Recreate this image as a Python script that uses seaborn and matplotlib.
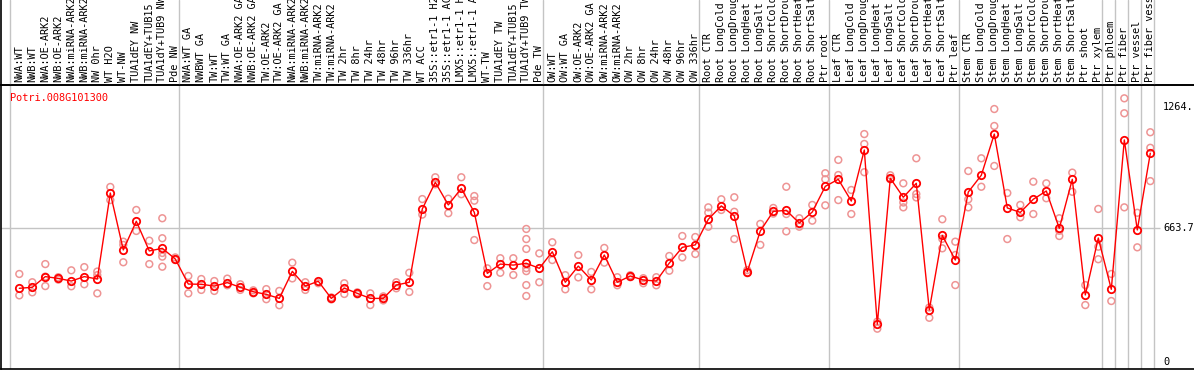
import matplotlib
matplotlib.use("Agg")
import matplotlib.pyplot as plt
import seaborn as sns
import pandas as pd
import numpy as np

gene = "Potri.008G101300"

labels = [
    # NW group
    "NWA:WT", "NWB:WT", "NWA:OE-ARK2", "NWB:OE-ARK2", "NWA:miRNA-ARK2", "NWB:miRNA-ARK2",
    "NW 0hr", "WT H2O", "WT-NW", "TUA1dEY NW", "TUA1dEY+TUB15", "TUA1dY+TUB9 NW", "Pde NW",
    # TW group
    "NWA:WT GA", "NWBWT GA", "TW:WT", "TW:WT GA", "NWA:OE-ARK2 GA", "NWB:OE-ARK2 GA",
    "TW:OE-ARK2", "TW:OE-ARK2 GA", "NWA:miRNA-ARK2", "NWB:miRNA-ARK2", "TW:miRNA-ARK2",
    "TW:miRNA-ARK2", "TW 2hr", "TW 8hr", "TW 24hr", "TW 48hr", "TW 96hr", "TW 336hr",
    "WT ACC", "35S::etr1-1 H2O", "35S::etr1-1 ACC", "LMX5::etr1-1 H2O", "LMX5::etr1-1 ACC",
    "WT-TW", "TUA1dEY TW", "TUA1dEY+TUB15", "TUA1dY+TUB9 TW", "Pde TW",
    # OW group
    "OW:WT", "OW:WT GA", "OW:OE-ARK2", "OW:OE-ARK2 GA", "OW:miRNA-ARK2", "OW:miRNA-ARK2",
    "OW 2hr", "OW 8hr", "OW 24hr", "OW 48hr", "OW 96hr", "OW 336hr",
    # Root
    "Root CTR", "Root LongCold", "Root LongDrought", "Root LongHeat", "Root LongSalt",
    "Root ShortCold", "Root ShortDrought", "Root ShortHeat", "Root ShortSalt", "Ptr root",
    # Leaf
    "Leaf CTR", "Leaf LongCold", "Leaf LongDrought", "Leaf LongHeat", "Leaf LongSalt",
    "Leaf ShortCold", "Leaf ShortDrought", "Leaf ShortHeat", "Leaf ShortSalt", "Ptr leaf",
    # Stem
    "Stem CTR", "Stem LongCold", "Stem LongDrought", "Stem LongHeat", "Stem LongSalt",
    "Stem ShortCold", "Stem ShortDrought", "Stem ShortHeat", "Stem ShortSalt", "Ptr shoot",
    "Ptr xylem",
    # single tissues
    "Ptr phloem", "Ptr fiber", "Ptr vessel", "Ptr fiber vessel",
]

group_sizes = [13, 28, 12, 10, 10, 11, 1, 1, 1, 1]

means = [
    365, 370, 423, 414, 401, 423, 411, 837, 555, 697, 550, 563, 510,
    386, 385, 376, 393, 370, 348, 335, 315, 449, 376, 400, 315, 366, 340, 315, 315,
    381, 395, 758, 890, 778, 860, 741, 439, 485, 480, 489, 464,
    546, 395, 475, 406, 530, 395, 426, 406, 401, 490, 568, 580,
    707, 773, 723, 447, 649, 746, 751, 688, 743, 870,
    905, 797, 1050, 187, 910, 816, 885, 258, 627, 505,
    842, 925, 1129, 763, 741, 806, 847, 662, 905, 332, 614,
    360, 1100, 654, 1034,
]

replicates = [
    [436, 330], [395, 345], [485, 376, 423], [420, 408], [454, 375], [470, 385],
    [448, 430, 340], [867, 802], [596, 494, 580], [753, 649], [601, 485],
    [712, 613, 522, 472, 540], [518, 505],
    [426, 340], [411, 357], [401, 352], [413, 380], [385, 357], [355, 340],
    [361, 311], [352, 281], [492, 414], [395, 357], [390], [320, 310], [390, 337],
    [345, 335], [340, 282], [325, 305], [365, 395], [442, 347], [807, 730],
    [915, 880], [809, 737], [915, 831], [822, 799, 604], [464, 376], [514, 442],
    [514, 431], [659, 609, 560, 465, 450, 381, 327], [538, 395],
    [593, 505], [430, 360], [530, 419], [446, 360], [565, 492], [420, 380],
    [430, 420], [415, 390], [420, 380], [525, 452], [624, 518], [619, 535],
    [766, 740, 670], [806, 753], [816, 744, 609], [455, 440], [684, 580],
    [763, 735], [868, 733, 647], [712, 670], [778, 700], [935, 905, 776],
    [1001, 926, 802], [852, 733], [1129, 1080, 940], [200, 165], [925, 905],
    [885, 790, 766], [1009, 832, 815], [270, 219], [707, 610, 563], [596, 530, 381],
    [946, 806, 766], [1009, 868], [1253, 1169, 971], [837, 609], [778, 717],
    [893, 733], [885, 811], [712, 624, 650], [938, 843], [381, 282], [758, 571, 509],
    [436, 302], [1306, 1232, 766], [739, 568], [1138, 1061, 896],
]

ytick_vals = [1264, 663.7, 0]
ytick_labels = ["1264.", "663.7", "0"]

# ---------------------------------------------------------------
sns.set_style("white")
plt.rcParams["font.family"] = ["DejaVu Sans Mono", "DejaVu Sans"]

W, H = 1194, 370
fig = plt.figure(figsize=(W / 100, H / 100), dpi=100)

ax = fig.add_axes([1 / W, (H - 369) / H, (W - 1) / W, (369 - 85) / H])
lab = fig.add_axes([1 / W, (H - 85) / H, (W - 1) / W, 85 / H], sharex=ax)

xs = np.arange(len(means))
mean_df = pd.DataFrame({"x": xs, "value": means})
rep_df = pd.DataFrame(
    [(i, v) for i, reps in enumerate(replicates) for v in reps], columns=["x", "value"]
)

red = "#ff0000"
pink = "#ee9494"

sns.scatterplot(data=rep_df, x="x", y="value", ax=ax, marker="o", s=24,
                facecolor="none", edgecolor=pink, linewidth=1.1, zorder=3, legend=False)
sns.lineplot(data=mean_df, x="x", y="value", ax=ax, color=red, lw=1.0, sort=False,
             marker="o", ms=5.3, mfc="none", mec=red, mew=1.3, zorder=4, legend=False)

xmin = (1 - 19.3) / 13
xmax = (W - 19.3) / 13
ax.set_xlim(xmin, xmax)
ax.set_ylim(-34.7, 1372)

# separators
bounds = np.concatenate([[0], np.cumsum(group_sizes)]) - 0.715
for b in bounds:
    ax.axvline(b, color="#c4c4c4", lw=1.0, zorder=1)
    lab.axvline(b, color="#c4c4c4", lw=1.0, zorder=1)

ax.hlines(663.7, xmin, (1160 - 19.3) / 13, color="#c4c4c4", lw=1.0, zorder=1)

for v, t in zip(ytick_vals, ytick_labels):
    ax.text((1163 - 19.3) / 13, v, t, fontsize=7.4, va="center", ha="left", color="black")

ax.set_xticks([])
ax.set_yticks([])
ax.set_xlabel("")
ax.set_ylabel("")
for s in ["left", "bottom", "top"]:
    ax.spines[s].set_visible(True)
    ax.spines[s].set_color("black")
    ax.spines[s].set_linewidth(1.2)
ax.spines["right"].set_visible(False)

ax.text(0.0075, 0.955, gene, transform=ax.transAxes, color=red, fontsize=7.4,
        ha="left", va="center")

# label strip
lab.set_ylim(0, 85)
lab.axis("off")
for i, t in enumerate(labels):
    lab.text(i, 2.5, t, rotation=90, ha="center", va="bottom", fontsize=7.4,
             color="black", clip_on=False)
lab.plot([0, 1], [0, 0], transform=lab.transAxes, color="black", lw=1.2, clip_on=False)
lab.plot([0, 0], [0, 1], transform=lab.transAxes, color="black", lw=1.2, clip_on=False)

fig.savefig("out.png", dpi=100)
